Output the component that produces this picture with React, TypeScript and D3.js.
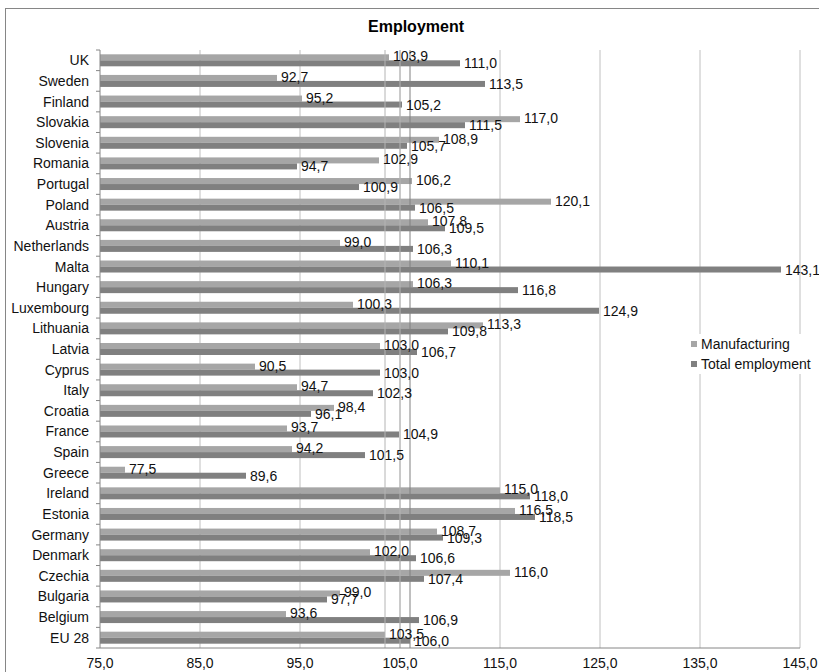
import React from 'react'
import * as d3 from 'd3'

const countries = ['UK', 'Sweden', 'Finland', 'Slovakia', 'Slovenia', 'Romania', 'Portugal', 'Poland', 'Austria', 'Netherlands',
    'Malta', 'Hungary', 'Luxembourg', 'Lithuania', 'Latvia', 'Cyprus', 'Italy', 'Croatia', 'France', 'Spain',
    'Greece', 'Ireland', 'Estonia', 'Germany', 'Denmark', 'Czechia', 'Bulgaria', 'Belgium', 'EU 28']
const manufacturing = [103.9, 92.7, 95.2, 117.0, 108.9, 102.9, 106.2, 120.1, 107.8, 99.0,
    110.1, 106.3, 100.3, 113.3, 103.0, 90.5, 94.7, 98.4, 93.7, 94.2,
    77.5, 115.0, 116.5, 108.7, 102.0, 116.0, 99.0, 93.6, 103.5]
const totalEmployment = [111.0, 113.5, 105.2, 111.5, 105.7, 94.7, 100.9, 106.5, 109.5, 106.3,
    143.1, 116.8, 124.9, 109.8, 106.7, 103.0, 102.3, 96.1, 104.9, 101.5,
    89.6, 118.0, 118.5, 109.3, 106.6, 107.4, 97.7, 106.9, 106.0]
const xTicks = [75, 85, 95, 105, 115, 125, 135, 145]
const refLines = [
    { value: 103.5, color: '#b4b4b4' },
    { value: 105.0, color: '#b4b4b4' },
    { value: 106.0, color: '#808080' },
]
const seriesNames = ['Manufacturing', 'Total employment']
const seriesColors = ['#a6a6a6', '#808080']

const W = 819
const H = 672
const fmt = (v: number) => v.toFixed(1).replace('.', ',')
const font = '"Liberation Sans", Arial, sans-serif'

export default function App() {
    const left = 100, right = 800, top = 50, bottom = 648

    const x = d3.scaleLinear().domain([75, 145]).range([left, right])
    const y = d3.scaleBand<string>().domain(countries).range([top, bottom])
    const barH = 6

    const series = [manufacturing, totalEmployment]

    return (
        <svg width={W} height={H} style={{ position: 'absolute', left: 0, top: 0, fontFamily: font }}>
            <rect x={0} y={0} width={W} height={H} fill="white" />
            <rect x={5.5} y={8.5} width={W + 20} height={H + 20} fill="none" stroke="#868686" />
            <text x={416} y={32} textAnchor="middle" fontSize={16} fontWeight="bold" fill="#000">Employment</text>

            {xTicks.slice(1).map(t => (
                <line key={t} x1={x(t)} x2={x(t)} y1={top} y2={bottom} stroke="#c0c0c0" />
            ))}

            {countries.map((c, i) => {
                const cy = y(c)! + y.bandwidth() / 2
                return (
                    <g key={c}>
                        {series.map((s, k) => (
                            <rect key={k} x={x(75)} y={cy - barH + k * barH} width={x(s[i]) - x(75)} height={barH}
                                fill={seriesColors[k]} />
                        ))}
                    </g>
                )
            })}

            {refLines.map(r => (
                <line key={r.value} x1={x(r.value)} x2={x(r.value)} y1={top} y2={bottom} stroke={r.color} />
            ))}

            {countries.map((c, i) => {
                const cy = y(c)! + y.bandwidth() / 2
                return (
                    <g key={c}>
                        {series.map((s, k) => (
                            <text key={k} x={x(s[i]) + 4} y={cy - barH / 2 + k * barH - (k === 0 ? 1 : 0)}
                                dominantBaseline="central" fontSize={14} fill="#111">{fmt(s[i])}</text>
                        ))}
                        <text x={89} y={cy} textAnchor="end" dominantBaseline="central" fontSize={14} fill="#111">{c}</text>
                    </g>
                )
            })}

            <line x1={left} x2={left} y1={top} y2={bottom} stroke="#868686" />
            {d3.range(countries.length + 1).map(j => {
                const ty = top + j * y.step()
                return <line key={j} x1={left - 4} x2={left} y1={ty} y2={ty} stroke="#868686" />
            })}
            <line x1={left} x2={right} y1={bottom} y2={bottom} stroke="#868686" />
            {xTicks.map(t => (
                <text key={t} x={x(t)} y={663} textAnchor="middle" dominantBaseline="central" fontSize={14} fill="#111">{fmt(t)}</text>
            ))}

            <rect x={688} y={334} width={W - 688} height={40} fill="white" />
            {seriesNames.map((n, k) => (
                <g key={n}>
                    <rect x={691} y={341 + k * 20} width={6} height={6} fill={seriesColors[k]} />
                    <text x={701} y={344 + k * 20} dominantBaseline="central" fontSize={14} fill="#111">{n}</text>
                </g>
            ))}
        </svg>
    )
}
